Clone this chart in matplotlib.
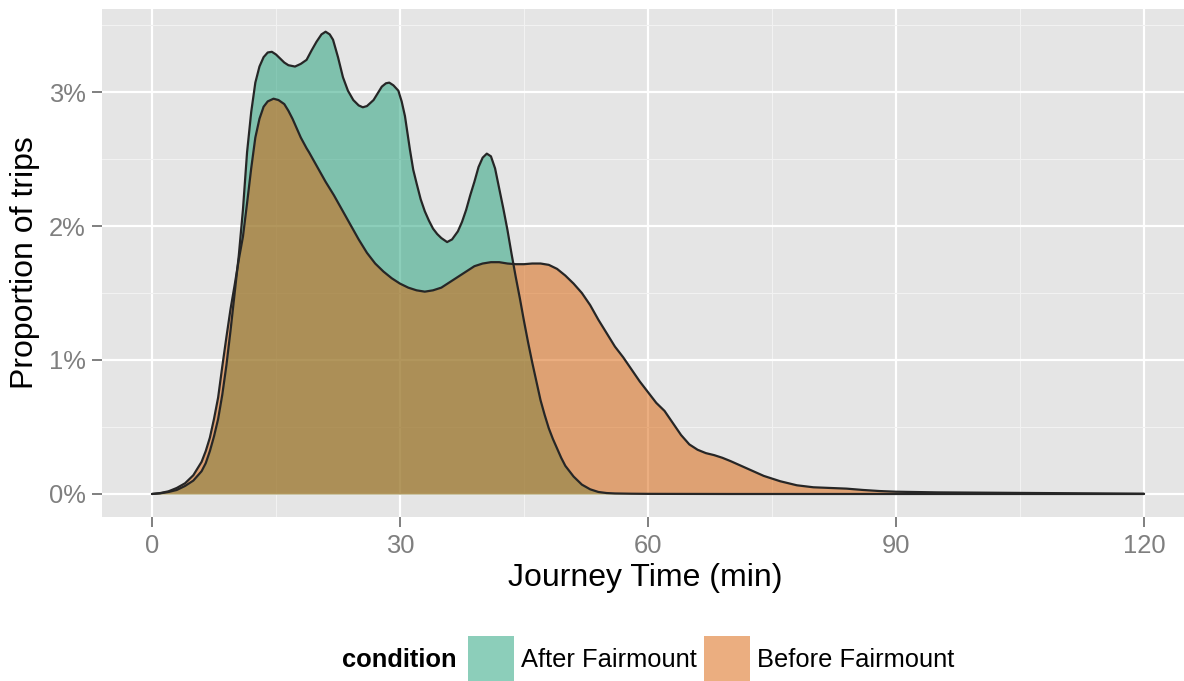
import matplotlib
matplotlib.use("Agg")
import matplotlib.pyplot as plt
from matplotlib.patches import Rectangle

plt.rcParams['font.family'] = ['Liberation Sans', 'DejaVu Sans']

# Journey time (min) and density (% of trips per minute) for each condition
after_time = [0, 1, 2, 3, 4, 5, 6, 6.5, 7, 7.5, 8, 8.5, 9, 9.5, 10, 10.5, 11, 11.5, 12,
              12.5, 13, 13.5, 14, 14.5, 15, 15.5, 16, 16.5, 17.3, 18, 18.7, 19.3, 19.9,
              20.5, 21, 21.5, 21.9, 22.5, 23.1, 23.7, 24.35, 25, 25.5, 26, 26.8, 27.3,
              27.8, 28.3, 28.7, 29.2, 29.8, 30.2, 30.6, 31.2, 31.6, 32, 32.5, 33, 33.5,
              34, 34.5, 35, 35.7, 36.3, 37, 37.5, 38, 38.5, 39, 39.5, 40, 40.5, 41, 41.5,
              42, 42.5, 43, 43.5, 44, 44.5, 45, 45.5, 46, 46.5, 47, 47.5, 48, 48.5, 49,
              49.5, 50, 51, 52, 53, 54, 55, 56, 58, 60, 70, 80, 90, 100, 110, 120]
after_pct = [0.000, 0.005, 0.015, 0.030, 0.060, 0.100, 0.170, 0.230, 0.320, 0.430, 0.560,
             0.740, 0.960, 1.220, 1.500, 1.780, 2.120, 2.550, 2.850, 3.070, 3.190, 3.260,
             3.295, 3.300, 3.280, 3.250, 3.220, 3.200, 3.190, 3.210, 3.240, 3.310, 3.375,
             3.430, 3.450, 3.430, 3.390, 3.260, 3.110, 3.010, 2.940, 2.900, 2.886, 2.895,
             2.940, 2.990, 3.040, 3.065, 3.070, 3.050, 3.010, 2.930, 2.820, 2.570, 2.420,
             2.320, 2.200, 2.110, 2.040, 1.980, 1.940, 1.910, 1.880, 1.900, 1.960, 2.030,
             2.120, 2.230, 2.330, 2.440, 2.510, 2.540, 2.520, 2.430, 2.280, 2.130, 1.970,
             1.790, 1.620, 1.460, 1.290, 1.130, 0.980, 0.840, 0.700, 0.590, 0.490, 0.410,
             0.340, 0.270, 0.210, 0.130, 0.070, 0.035, 0.015, 0.007, 0.004, 0.002, 0.001,
             0.000, 0.000, 0.000, 0.000, 0.000, 0.000]

before_time = [0, 1, 2, 3, 4, 5, 6, 6.5, 7, 7.5, 8, 8.5, 9, 9.5, 10, 10.5, 11, 11.5, 12,
               12.5, 13, 13.5, 14, 14.7, 15.3, 16, 16.5, 17, 17.5, 18, 18.7, 19, 20, 21,
               22, 23, 24, 25, 26, 27, 28, 29, 30, 31, 32, 33, 34, 35, 36, 37, 38, 39, 40,
               41, 42, 43, 44, 45, 46, 47, 48, 49, 50, 51, 52, 53, 54, 55, 56, 57, 58, 59,
               60, 61, 62, 63, 64, 65, 66, 67, 68, 69, 70, 72, 74, 76, 78, 80, 82, 84, 86,
               88, 90, 95, 100, 110, 120]
before_pct = [0.000, 0.007, 0.020, 0.045, 0.080, 0.140, 0.240, 0.320, 0.420, 0.560, 0.720,
              0.950, 1.170, 1.380, 1.560, 1.750, 1.920, 2.170, 2.430, 2.660, 2.800, 2.890,
              2.930, 2.950, 2.940, 2.910, 2.860, 2.800, 2.730, 2.660, 2.580, 2.550, 2.440,
              2.330, 2.230, 2.120, 2.010, 1.900, 1.800, 1.720, 1.660, 1.610, 1.570, 1.540,
              1.520, 1.510, 1.520, 1.540, 1.580, 1.620, 1.660, 1.700, 1.720, 1.730, 1.730,
              1.720, 1.715, 1.715, 1.720, 1.720, 1.710, 1.680, 1.630, 1.570, 1.500, 1.410,
              1.300, 1.200, 1.100, 1.020, 0.930, 0.840, 0.760, 0.680, 0.620, 0.530, 0.440,
              0.370, 0.330, 0.305, 0.290, 0.270, 0.245, 0.190, 0.135, 0.095, 0.065, 0.050,
              0.045, 0.040, 0.030, 0.022, 0.017, 0.012, 0.010, 0.006, 0.002]

conditions = ["After Fairmount", "Before Fairmount"]
fill_colors = ["#1B9E77", "#D95F02"]

x_ticks = [0, 30, 60, 90, 120]
y_ticks = [0, 1, 2, 3]
y_tick_labels = ["0%", "1%", "2%", "3%"]

fig = plt.figure(figsize=(11.84, 6.81), dpi=100)
W, H = 1184, 681
ax_left, ax_right, ax_top, ax_bottom = 102.4, 1193.6, 8.6, 517.1
ax = fig.add_axes([ax_left / W, (H - ax_bottom) / H,
                   (ax_right - ax_left) / W, (ax_bottom - ax_top) / H])
ax.set_facecolor("#E5E5E5")

series = [(after_time, after_pct), (before_time, before_pct)]
for (t, p), col in zip(series, fill_colors):
    ax.fill_between(t, 0, p, color=col, alpha=0.5, linewidth=0, zorder=2)
    ax.plot(t, p, color="#262626", linewidth=1.6, zorder=3,
            solid_joinstyle="round", solid_capstyle="round")

ax.set_xlim(-6, 126)
ax.set_ylim(-0.1725, 3.6225)
ax.set_xticks(x_ticks)
ax.set_xticklabels([str(v) for v in x_ticks])
ax.set_yticks(y_ticks)
ax.set_yticklabels(y_tick_labels)
ax.set_xticks([15, 45, 75, 105], minor=True)
ax.set_yticks([0.5, 1.5, 2.5, 3.5], minor=True)

ax.grid(which="major", color="white", linewidth=1.6, zorder=0)
ax.grid(which="minor", color="#F2F2F2", linewidth=0.8, zorder=0)
ax.set_axisbelow(True)
for s in ax.spines.values():
    s.set_visible(False)

ax.tick_params(axis="both", which="major", colors="#7F7F7F", length=7, width=1.4,
               labelsize=18.4)
ax.tick_params(axis="x", which="major", pad=5)
ax.tick_params(axis="y", which="major", pad=5)
ax.tick_params(axis="both", which="minor", length=0)
for lab in ax.get_xticklabels() + ax.get_yticklabels():
    lab.set_color("#7F7F7F")

ax.set_xlabel("Journey Time (min)", fontsize=23, color="black")
ax.xaxis.set_label_coords((645 - ax_left) / (ax_right - ax_left),
                          -(563 - ax_bottom) / (ax_bottom - ax_top))
fig.text(25 / W, 1 - 263 / H, "Proportion of trips", rotation=90, fontsize=23,
         ha="center", va="center", color="black")

# Legend along the bottom
ly = 1 - 660 / H
fig.text(342 / W, ly, "condition", fontsize=18.4, fontweight="bold", ha="left", va="center")
for x0, col, lab in [(468, fill_colors[0], conditions[0]), (704, fill_colors[1], conditions[1])]:
    fig.patches.append(Rectangle((x0 / W, 0), 46 / W, (H - 636) / H, transform=fig.transFigure,
                                 facecolor=col, alpha=0.5, edgecolor="none"))
    fig.text((x0 + 53) / W, ly, lab, fontsize=18.4, ha="left", va="center")

fig.savefig("out.png", dpi=100)
